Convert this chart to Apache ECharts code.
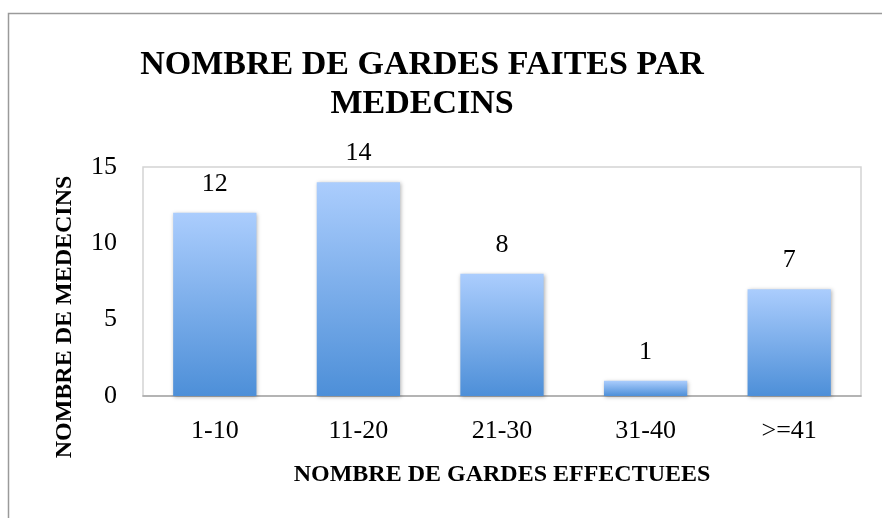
<!DOCTYPE html>
<html>
<head>
<meta charset="utf-8">
<script src="https://cdn.jsdelivr.net/npm/echarts@6/dist/echarts.min.js"></script>
<style>html,body{margin:0;padding:0;background:#fff}#c{width:882px;height:518px}</style>
</head>
<body>
<div id="c"></div>
<script>
var categories = ['1-10', '11-20', '21-30', '31-40', '>=41'];
var values = [12, 14, 8, 1, 7];
var yTicks = [0, 5, 10, 15];
var titleText = 'NOMBRE DE GARDES FAITES PAR\nMEDECINS';
var xName = 'NOMBRE DE GARDES EFFECTUEES';
var yName = 'NOMBRE DE MEDECINS';

var serif = '"Liberation Serif", "DejaVu Serif", serif';
var chart = echarts.init(document.getElementById('c'), null, {renderer: 'canvas'});
chart.setOption({
  animation: false,
  backgroundColor: '#fff',
  title: {
    text: titleText,
    left: 422,
    top: 46,
    padding: 0,
    textAlign: 'center',
    textStyle: {fontFamily: serif, fontSize: 34, fontWeight: 'bold', color: '#000', lineHeight: 39}
  },
  graphic: [
    {type: 'rect', shape: {x: 8.5, y: 13.5, width: 900, height: 600}, style: {fill: 'none', stroke: '#9a9a9a', lineWidth: 1.5}, silent: true, z: -1},
    {type: 'text', x: 65, y: 317, rotation: Math.PI / 2,
     style: {text: yName, fontFamily: serif, fontSize: 24, fontWeight: 'bold', fill: '#000', align: 'center', verticalAlign: 'middle'}}
  ],
  grid: {left: 143, right: 21, top: 167, bottom: 122, show: true, borderColor: '#d4d4d4', borderWidth: 1.5, backgroundColor: 'transparent'},
  xAxis: {
    type: 'category',
    data: categories,
    name: xName,
    nameLocation: 'middle',
    nameGap: 67,
    nameTextStyle: {fontFamily: serif, fontSize: 24, fontWeight: 'bold', color: '#000'},
    axisLine: {lineStyle: {color: '#a6a6a6', width: 1.5}},
    axisTick: {show: false},
    axisLabel: {fontFamily: serif, fontSize: 26, color: '#000', margin: 22}
  },
  yAxis: {
    type: 'value',
    min: yTicks[0],
    max: yTicks[yTicks.length - 1],
    interval: yTicks[1] - yTicks[0],
    axisLine: {show: false},
    axisTick: {show: false},
    splitLine: {show: false},
    axisLabel: {fontFamily: serif, fontSize: 26, color: '#000', margin: 26}
  },
  series: [{
    type: 'bar',
    data: values,
    barWidth: '58%',
    itemStyle: {
      color: new echarts.graphic.LinearGradient(0, 0, 0, 1, [
        {offset: 0, color: '#abcdfd'},
        {offset: 1, color: '#4d8fd8'}
      ]),
      shadowColor: 'rgba(0,0,0,0.3)',
      shadowBlur: 4,
      shadowOffsetX: 1,
      shadowOffsetY: 1
    },
    label: {show: true, position: 'top', distance: 16, fontFamily: serif, fontSize: 26, color: '#000'}
  }]
});
</script>
</body>
</html>
